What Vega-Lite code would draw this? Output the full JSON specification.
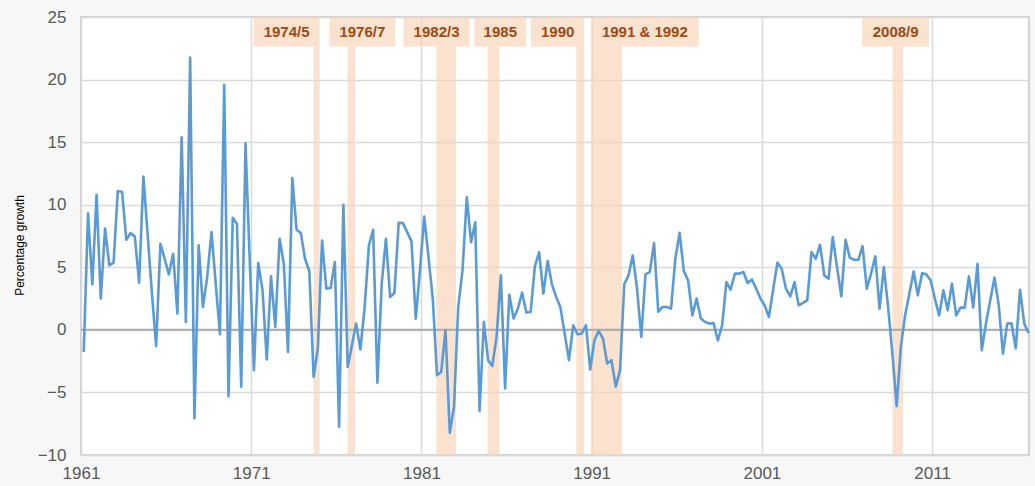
{
  "$schema": "https://vega.github.io/schema/vega-lite/v6.json",
  "width": 948,
  "height": 438,
  "autosize": {"type": "none"},
  "padding": {"left": 81, "top": 17, "right": 6, "bottom": 31},
  "background": "#F7F7F7",
  "config": {
    "font": "Liberation Sans",
    "view": {"fill": "#FFFFFF", "stroke": "#C4C4C4", "strokeWidth": 1.5}
  },
  "datasets": {
    "growth": [
      {"date":"1961-03","growth":-1.76},{"date":"1961-06","growth":9.32},{"date":"1961-09","growth":3.64},{"date":"1961-12","growth":10.8},
      {"date":"1962-03","growth":2.5},{"date":"1962-06","growth":8.1},{"date":"1962-09","growth":5.15},{"date":"1962-12","growth":5.37},
      {"date":"1963-03","growth":11.08},{"date":"1963-06","growth":11.03},{"date":"1963-09","growth":7.2},{"date":"1963-12","growth":7.73},
      {"date":"1964-03","growth":7.46},{"date":"1964-06","growth":3.77},{"date":"1964-09","growth":12.25},{"date":"1964-12","growth":7.62},
      {"date":"1965-03","growth":3.0},{"date":"1965-06","growth":-1.28},{"date":"1965-09","growth":6.88},{"date":"1965-12","growth":5.68},
      {"date":"1966-03","growth":4.43},{"date":"1966-06","growth":6.08},{"date":"1966-09","growth":1.3},{"date":"1966-12","growth":15.38},
      {"date":"1967-03","growth":0.63},{"date":"1967-06","growth":21.76},{"date":"1967-09","growth":-7.07},{"date":"1967-12","growth":6.75},
      {"date":"1968-03","growth":1.83},{"date":"1968-06","growth":4.22},{"date":"1968-09","growth":7.81},{"date":"1968-12","growth":3.69},
      {"date":"1969-03","growth":-0.35},{"date":"1969-06","growth":19.59},{"date":"1969-09","growth":-5.3},{"date":"1969-12","growth":8.96},
      {"date":"1970-03","growth":8.47},{"date":"1970-06","growth":-4.55},{"date":"1970-09","growth":14.9},{"date":"1970-12","growth":5.5},
      {"date":"1971-03","growth":-3.22},{"date":"1971-06","growth":5.34},{"date":"1971-09","growth":3.16},{"date":"1971-12","growth":-2.37},
      {"date":"1972-03","growth":4.27},{"date":"1972-06","growth":0.23},{"date":"1972-09","growth":7.28},{"date":"1972-12","growth":5.28},
      {"date":"1973-03","growth":-1.76},{"date":"1973-06","growth":12.14},{"date":"1973-09","growth":8.0},{"date":"1973-12","growth":7.73},
      {"date":"1974-03","growth":5.68},{"date":"1974-06","growth":4.7},{"date":"1974-09","growth":-3.75},{"date":"1974-12","growth":-1.49},
      {"date":"1975-03","growth":7.14},{"date":"1975-06","growth":3.29},{"date":"1975-09","growth":3.34},{"date":"1975-12","growth":5.42},
      {"date":"1976-03","growth":-7.74},{"date":"1976-06","growth":9.99},{"date":"1976-09","growth":-2.96},{"date":"1976-12","growth":-1.23},
      {"date":"1977-03","growth":0.5},{"date":"1977-06","growth":-1.57},{"date":"1977-09","growth":1.83},{"date":"1977-12","growth":6.75},
      {"date":"1978-03","growth":8.0},{"date":"1978-06","growth":-4.23},{"date":"1978-09","growth":3.69},{"date":"1978-12","growth":7.28},
      {"date":"1979-03","growth":2.63},{"date":"1979-06","growth":2.95},{"date":"1979-09","growth":8.55},{"date":"1979-12","growth":8.53},
      {"date":"1980-03","growth":7.81},{"date":"1980-06","growth":7.07},{"date":"1980-09","growth":0.9},{"date":"1980-12","growth":4.8},
      {"date":"1981-03","growth":9.06},{"date":"1981-06","growth":5.8},{"date":"1981-09","growth":2.5},{"date":"1981-12","growth":-3.62},
      {"date":"1982-03","growth":-3.36},{"date":"1982-06","growth":-0.03},{"date":"1982-09","growth":-8.22},{"date":"1982-12","growth":-6.15},
      {"date":"1983-03","growth":1.83},{"date":"1983-06","growth":4.75},{"date":"1983-09","growth":10.6},{"date":"1983-12","growth":7.01},
      {"date":"1984-03","growth":8.6},{"date":"1984-06","growth":-6.47},{"date":"1984-09","growth":0.63},{"date":"1984-12","growth":-2.42},
      {"date":"1985-03","growth":-2.88},{"date":"1985-06","growth":-0.56},{"date":"1985-09","growth":4.35},{"date":"1985-12","growth":-4.68},
      {"date":"1986-03","growth":2.81},{"date":"1986-06","growth":0.9},{"date":"1986-09","growth":1.7},{"date":"1986-12","growth":2.97},
      {"date":"1987-03","growth":1.38},{"date":"1987-06","growth":1.43},{"date":"1987-09","growth":5.07},{"date":"1987-12","growth":6.21},
      {"date":"1988-03","growth":2.9},{"date":"1988-06","growth":5.5},{"date":"1988-09","growth":3.64},{"date":"1988-12","growth":2.63},
      {"date":"1989-03","growth":1.8},{"date":"1989-06","growth":-0.3},{"date":"1989-09","growth":-2.42},{"date":"1989-12","growth":0.37},
      {"date":"1990-03","growth":-0.35},{"date":"1990-06","growth":-0.3},{"date":"1990-09","growth":0.37},{"date":"1990-12","growth":-3.17},
      {"date":"1991-03","growth":-0.83},{"date":"1991-06","growth":-0.08},{"date":"1991-09","growth":-0.7},{"date":"1991-12","growth":-2.69},
      {"date":"1992-03","growth":-2.42},{"date":"1992-06","growth":-4.55},{"date":"1992-09","growth":-3.22},{"date":"1992-12","growth":3.64},
      {"date":"1993-03","growth":4.35},{"date":"1993-06","growth":5.95},{"date":"1993-09","growth":3.29},{"date":"1993-12","growth":-0.56},
      {"date":"1994-03","growth":4.43},{"date":"1994-06","growth":4.62},{"date":"1994-09","growth":6.93},{"date":"1994-12","growth":1.43},
      {"date":"1995-03","growth":1.83},{"date":"1995-06","growth":1.83},{"date":"1995-09","growth":1.7},{"date":"1995-12","growth":5.68},
      {"date":"1996-03","growth":7.76},{"date":"1996-06","growth":4.7},{"date":"1996-09","growth":3.95},{"date":"1996-12","growth":1.16},
      {"date":"1997-03","growth":2.5},{"date":"1997-06","growth":0.9},{"date":"1997-09","growth":0.63},{"date":"1997-12","growth":0.5},
      {"date":"1998-03","growth":0.55},{"date":"1998-06","growth":-0.85},{"date":"1998-09","growth":0.37},{"date":"1998-12","growth":3.82},
      {"date":"1999-03","growth":3.21},{"date":"1999-06","growth":4.49},{"date":"1999-09","growth":4.49},{"date":"1999-12","growth":4.62},
      {"date":"2000-03","growth":3.74},{"date":"2000-06","growth":4.03},{"date":"2000-09","growth":3.29},{"date":"2000-12","growth":2.5},
      {"date":"2001-03","growth":1.96},{"date":"2001-06","growth":1.03},{"date":"2001-09","growth":3.29},{"date":"2001-12","growth":5.37},
      {"date":"2002-03","growth":4.89},{"date":"2002-06","growth":3.29},{"date":"2002-09","growth":2.68},{"date":"2002-12","growth":3.82},
      {"date":"2003-03","growth":1.96},{"date":"2003-06","growth":2.15},{"date":"2003-09","growth":2.36},{"date":"2003-12","growth":6.21},
      {"date":"2004-03","growth":5.68},{"date":"2004-06","growth":6.8},{"date":"2004-09","growth":4.35},{"date":"2004-12","growth":4.09},
      {"date":"2005-03","growth":7.41},{"date":"2005-06","growth":5.02},{"date":"2005-09","growth":2.68},{"date":"2005-12","growth":7.2},
      {"date":"2006-03","growth":5.77},{"date":"2006-06","growth":5.6},{"date":"2006-09","growth":5.6},{"date":"2006-12","growth":6.69},
      {"date":"2007-03","growth":3.29},{"date":"2007-06","growth":4.49},{"date":"2007-09","growth":5.87},{"date":"2007-12","growth":1.7},
      {"date":"2008-03","growth":5.02},{"date":"2008-06","growth":1.83},{"date":"2008-09","growth":-1.9},{"date":"2008-12","growth":-6.1},
      {"date":"2009-03","growth":-1.36},{"date":"2009-06","growth":1.16},{"date":"2009-09","growth":2.9},{"date":"2009-12","growth":4.67},
      {"date":"2010-03","growth":2.76},{"date":"2010-06","growth":4.54},{"date":"2010-09","growth":4.43},{"date":"2010-12","growth":3.95},
      {"date":"2011-03","growth":2.5},{"date":"2011-06","growth":1.16},{"date":"2011-09","growth":3.16},{"date":"2011-12","growth":1.56},
      {"date":"2012-03","growth":3.69},{"date":"2012-06","growth":1.16},{"date":"2012-09","growth":1.78},{"date":"2012-12","growth":1.78},
      {"date":"2013-03","growth":4.27},{"date":"2013-06","growth":1.78},{"date":"2013-09","growth":5.28},{"date":"2013-12","growth":-1.63},
      {"date":"2014-03","growth":0.5},{"date":"2014-06","growth":2.36},{"date":"2014-09","growth":4.17},{"date":"2014-12","growth":1.96},
      {"date":"2015-03","growth":-1.9},{"date":"2015-06","growth":0.5},{"date":"2015-09","growth":0.53},{"date":"2015-12","growth":-1.49},
      {"date":"2016-03","growth":3.21},{"date":"2016-06","growth":0.5},{"date":"2016-09","growth":-0.25}
    ],
    "recessions": [
      {"label":"1974/5","from":"1974-09-01","to":"1975-01-08","label_from":"1971-02-21","label_to":"1975-01-08","label_at":"1973-01-30"},
      {"label":"1976/7","from":"1976-08-28","to":"1977-02-06","label_from":"1975-08-04","label_to":"1979-06-20","label_at":"1977-07-13"},
      {"label":"1982/3","from":"1981-11-17","to":"1983-01-12","label_from":"1979-12-13","label_to":"1983-10-30","label_at":"1981-11-21"},
      {"label":"1985","from":"1984-11-21","to":"1985-07-31","label_from":"1984-02-10","label_to":"1987-02-28","label_at":"1985-08-20"},
      {"label":"1990","from":"1990-02-06","to":"1990-07-27","label_from":"1987-06-10","label_to":"1990-07-27","label_at":"1989-01-02"},
      {"label":"1991 & 1992","from":"1990-12-16","to":"1992-10-16","label_from":"1990-12-16","label_to":"1997-04-16","label_at":"1994-02-15"},
      {"label":"2008/9","from":"2008-09-02","to":"2009-04-20","label_from":"2006-11-24","label_to":"2010-10-27","label_at":"2008-11-10"}
    ]
  },
  "encoding": {
    "x": {
      "type": "temporal",
      "scale": {"domain": [{"year": 1961, "month": 1, "date": 1}, {"year": 2016, "month": 9, "date": 10}], "nice": false},
      "axis": {
        "title": null,
        "values": [{"year":1961},{"year":1971},{"year":1981},{"year":1991},{"year":2001},{"year":2011}],
        "format": "%Y",
        "grid": true,
        "gridColor": "#DADADA",
        "gridWidth": 1.5,
        "domain": false,
        "ticks": false,
        "labelFontSize": 17,
        "labelColor": "#595959",
        "labelPadding": 10,
        "labelFlush": false
      }
    }
  },
  "layer": [
    {
      "data": {"name": "recessions"},
      "mark": {"type": "rect", "color": "#F9D6BA", "opacity": 0.7},
      "encoding": {
        "x": {"field": "from", "type": "temporal"},
        "x2": {"field": "to"},
        "y": {
          "datum": -10,
          "type": "quantitative",
          "scale": {"domain": [-10, 25], "nice": false},
          "axis": {
            "title": "Percentage growth",
            "titleFontSize": 12,
            "titleFontWeight": "normal",
            "titleColor": "#000000",
            "titleX": -62,
            "titleY": 228,
            "titleBaseline": "middle",
            "titleAlign": "center",
            "values": [-10, -5, 0, 5, 10, 15, 20, 25],
            "grid": true,
            "gridColor": "#DADADA",
            "gridWidth": 1.5,
            "domain": false,
            "ticks": false,
            "labelFontSize": 17,
            "labelColor": "#595959",
            "labelPadding": 15
          }
        },
        "y2": {"datum": 22.65}
      }
    },
    {
      "data": {"name": "recessions"},
      "mark": {"type": "rect", "color": "#F9D6BA", "opacity": 0.7},
      "encoding": {
        "x": {"field": "label_from", "type": "temporal"},
        "x2": {"field": "label_to"},
        "y": {"datum": 22.65, "type": "quantitative"},
        "y2": {"datum": 25}
      }
    },
    {
      "data": {"name": "recessions"},
      "mark": {"type": "text", "fontSize": 15, "fontWeight": "bold", "color": "#9C4A14", "baseline": "middle", "align": "center"},
      "encoding": {
        "x": {"field": "label_at", "type": "temporal"},
        "y": {"datum": 23.8, "type": "quantitative"},
        "text": {"field": "label"}
      }
    },
    {
      "data": {"values": [{}]},
      "mark": {"type": "rule", "color": "#ABABAB", "strokeWidth": 2},
      "encoding": {"y": {"datum": 0, "type": "quantitative"}}
    },
    {
      "data": {"name": "growth"},
      "mark": {"type": "line", "color": "#5B9BD5", "strokeWidth": 2.6, "strokeJoin": "round"},
      "encoding": {
        "x": {"field": "date", "type": "temporal"},
        "y": {"field": "growth", "type": "quantitative"}
      }
    }
  ]
}
